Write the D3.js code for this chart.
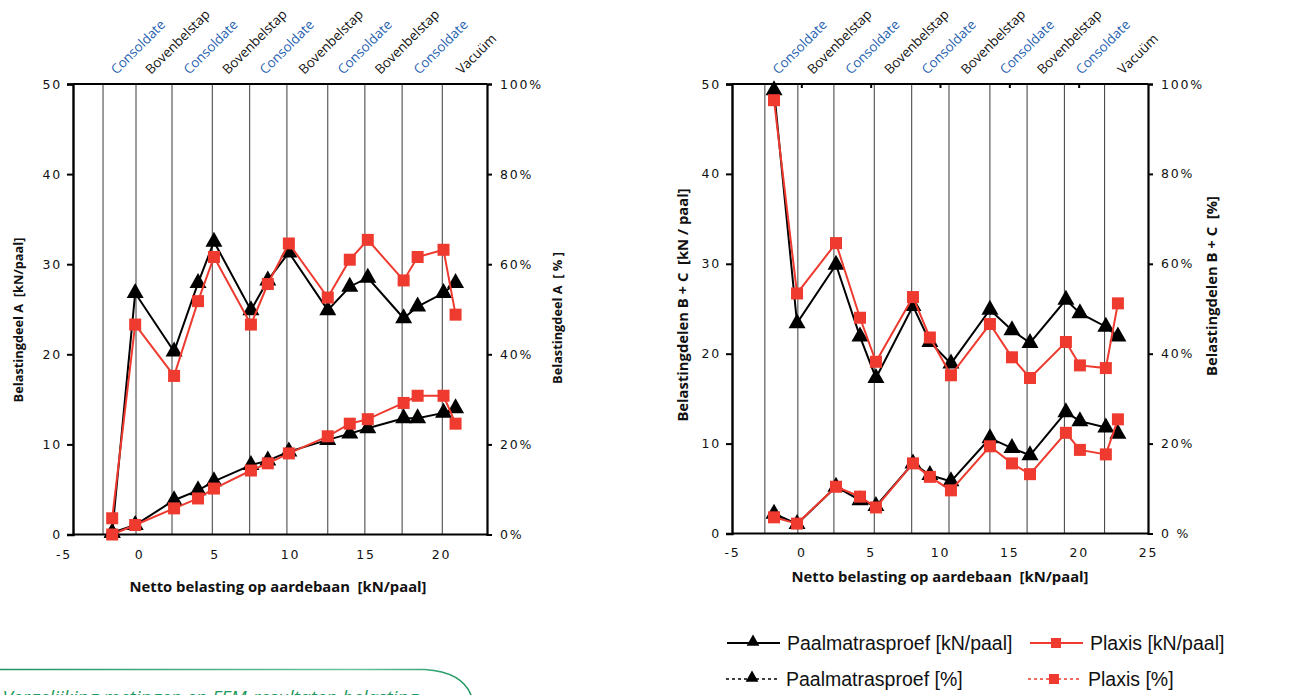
<!DOCTYPE html>
<html><head><meta charset="utf-8">
<script src="https://cdn.jsdelivr.net/npm/d3@7"></script>
<style>
body{margin:0;background:#fff;overflow:hidden}
svg{display:block;font-family:"Open Sans",sans-serif}
.tick text{font-family:"DejaVu Sans",sans-serif;font-size:12.5px;letter-spacing:1.8px;fill:#111}
</style>
</head><body>
<svg id="c" width="1303" height="695"></svg>
<script>
// ---------- data ----------
const nettoBelasting = [-1.97, -0.31, 2.5, 4.23, 5.38, 8.05, 9.27, 10.79, 13.6, 15.19, 16.49, 19.08, 20.09, 21.96, 22.83];
const phaseBounds = [-2.63, -0.25, 2.35, 5.26, 7.96, 10.65, 13.6, 16.28, 18.97, 21.87];
const phaseLabels = ["Consoldate","Bovenbelstap","Consoldate","Bovenbelstap","Consoldate","Bovenbelstap","Consoldate","Bovenbelstap","Consoldate","Vacuüm"];
const xTickValues = [-5, 0, 5, 10, 15, 20, 25];
const yTickValues = [0, 10, 20, 30, 40, 50];
const pctTickValues = [0, 20, 40, 60, 80, 100];
const pctTickLabelsA = ["0%","20%","40%","60%","80%","100%"];
const pctTickLabelsBC = ["0 %","20%","40%","60%","80%","100%"];

// Belastingdeel A
const deelA_paalmatras_kN = [0.2, 1.05, 3.8, 4.9, 5.9, 7.7, 8.2, 9.2, 10.5, 11.2, 11.8, 12.9, 12.9, 13.5, 14.0];
const deelA_plaxis_kN     = [0.0, 1.05, 2.9, 4.0, 5.1, 7.1, 7.9, 9.0, 10.9, 12.3, 12.8, 14.6, 15.4, 15.4, 12.3];
const deelA_paalmatras_pct = [0.4, 53.6, 40.6, 55.8, 65.0, 49.8, 56.4, 62.6, 49.8, 55.0, 57.0, 48.0, 50.6, 53.6, 55.8];
const deelA_plaxis_pct     = [3.6, 46.6, 35.2, 51.8, 61.6, 46.6, 55.6, 64.6, 52.6, 61.0, 65.4, 56.4, 61.6, 63.2, 48.8];

// Belastingdelen B + C
const deelBC_paalmatras_kN = [2.2, 1.06, 5.2, 3.7, 3.05, 7.8, 6.5, 5.8, 10.6, 9.5, 8.7, 13.5, 12.5, 11.8, 11.1];
const deelBC_plaxis_kN     = [1.8, 1.1, 5.2, 4.1, 2.9, 7.8, 6.3, 4.8, 9.7, 7.8, 6.6, 11.2, 9.3, 8.8, 12.7];
const deelBC_paalmatras_pct = [98.6, 46.8, 59.8, 43.8, 34.6, 50.6, 42.6, 37.8, 49.8, 45.2, 42.4, 52.0, 49.0, 46.0, 43.8];
const deelBC_plaxis_pct     = [96.4, 53.4, 64.6, 48.0, 38.2, 52.6, 43.6, 35.2, 46.6, 39.2, 34.6, 42.6, 37.4, 36.8, 51.2];

const legendItems = [
  {label:"Paalmatrasproef [kN/paal]", color:"#000", marker:"tri", dash:null},
  {label:"Plaxis [kN/paal]", color:"#ee3a2f", marker:"sq", dash:null},
  {label:"Paalmatrasproef [%]", color:"#000", marker:"tri", dash:"3,3"},
  {label:"Plaxis [%]", color:"#ee3a2f", marker:"sq", dash:"3,3"}
];

// ---------- drawing ----------
const svg = d3.select("#c");
const BLACK = "#000", RED = "#ee3a2f";
const triPath = s => `M0,${-10*s}L${8.5*s},${5*s}L${-8.5*s},${5*s}Z`;
const hyphenFmt = d => String(d).replace("\u2212","-");

function drawChart(cfg){
  const g = svg.append("g");
  const {x, xLab, y, yP, L, R, T, B} = cfg;

  // phase grid lines
  g.selectAll(".grid").data(phaseBounds).join("line")
    .attr("x1", d=>x(d)).attr("x2", d=>x(d))
    .attr("y1", T).attr("y2", B)
    .attr("stroke", "#3a3a3a").attr("stroke-width", 1);

  // frame
  g.append("line").attr("x1",L).attr("x2",R).attr("y1",T).attr("y2",T).attr("stroke","#000").attr("stroke-width",2.2);
  g.append("line").attr("x1",L).attr("x2",R).attr("y1",B).attr("y2",B).attr("stroke","#000").attr("stroke-width",2.2);

  // left axis
  const ay = g.append("g").attr("transform",`translate(${L},0)`)
    .call(d3.axisLeft(y).tickValues(yTickValues).tickSize(6).tickPadding(5));
  ay.select(".domain").attr("stroke-width",2.4);
  ay.selectAll(".tick line").attr("stroke-width",2);

  // right axis
  const ar = g.append("g").attr("transform",`translate(${R},0)`)
    .call(d3.axisRight(yP).tickValues(pctTickValues).tickSize(5).tickPadding(8)
      .tickFormat((d,i)=>cfg.pctLabels[i]));
  ar.select(".domain").attr("stroke-width",2.2);
  ar.selectAll(".tick line").attr("stroke-width",2);

  // bottom tick labels
  const ab = g.append("g").attr("transform",`translate(0,${B})`)
    .call(d3.axisBottom(xLab).tickValues(cfg.xLabels).tickSize(0).tickPadding(cfg.xPad)
      .tickFormat(d => d < 0 ? "-" + Math.abs(d) : String(d)));
  ab.select(".domain").remove();

  if (cfg.topTicks){
    const at = g.append("g").attr("transform",`translate(0,${T})`)
      .call(d3.axisTop(x).tickValues(cfg.topTicks).tickSize(-4).tickFormat(""));
    at.select(".domain").remove();
    at.selectAll(".tick line").attr("stroke-width",2);
  }

  // phase labels
  const spans = phaseBounds.map((b,i)=> (b + (i < phaseBounds.length-1 ? phaseBounds[i+1] : x.invert(R)))/2);
  g.selectAll(".phase").data(phaseLabels).join("text")
    .attr("transform",(d,i)=>`translate(${x(spans[i])-3},${T-9}) rotate(-45)`)
    .attr("font-size",13.3).attr("fill",(d)=> d==="Consoldate" ? "#1f5fb0" : "#111")
    .text(d=>d);

  // series
  const series = [
    {v:cfg.paal_pct, sc:yP, c:BLACK, m:"tri"},
    {v:cfg.paal_kN, sc:y, c:BLACK, m:"tri"},
    {v:cfg.plaxis_pct, sc:yP, c:RED, m:"sq"},
    {v:cfg.plaxis_kN, sc:y, c:RED, m:"sq"}
  ];
  series.forEach(s=>{
    const line = d3.line().x((d,i)=>x(nettoBelasting[i])).y(d=>s.sc(d));
    g.append("path").attr("d",line(s.v)).attr("fill","none").attr("stroke",s.c).attr("stroke-width",2);
    const pts = g.append("g");
    if (s.m==="tri"){
      pts.selectAll("path").data(s.v).join("path")
        .attr("transform",(d,i)=>`translate(${x(nettoBelasting[i])},${s.sc(d)})`)
        .attr("d",triPath(1)).attr("fill",s.c);
    } else {
      pts.selectAll("rect").data(s.v).join("rect")
        .attr("x",(d,i)=>x(nettoBelasting[i])-6).attr("y",d=>s.sc(d)-6)
        .attr("width",12).attr("height",12).attr("fill",s.c);
    }
  });

  // axis titles
  g.append("text").attr("x",cfg.xTitle[0]).attr("y",cfg.xTitle[1]).attr("text-anchor","middle")
    .attr("font-weight","bold").attr("font-size",cfg.xTitleSize).attr("fill","#111")
    .style("white-space","pre").text("Netto belasting op aardebaan  [kN/paal]");
  g.append("text").attr("transform",`translate(${cfg.yTitle[0]},${cfg.yTitle[1]}) rotate(-90)`)
    .attr("text-anchor","middle").attr("font-weight","bold").attr("font-size",cfg.yTitleSize).attr("fill","#111")
    .style("white-space","pre").text(cfg.yTitleText);
  g.append("text").attr("transform",`translate(${cfg.pTitle[0]},${cfg.pTitle[1]}) rotate(-90)`)
    .attr("text-anchor","middle").attr("font-weight","bold").attr("font-size",cfg.yTitleSize).attr("fill","#111")
    .style("white-space","pre").text(cfg.pTitleText);
}

// Chart A
{
  const L=73, R=487, T=84, B=534.5;
  drawChart({
    L,R,T,B,
    x: d3.scaleLinear().domain([-4.8, 25.1]).range([L,R]),
    xLab: d3.scaleLinear().domain([0, 20]).range([139, 441]),
    xLabels: [-5,0,5,10,15,20], xPad: 16,
    y: d3.scaleLinear().domain([0,50]).range([B,T]),
    yP: d3.scaleLinear().domain([0,100]).range([B,T]),
    pctLabels: pctTickLabelsA,
    paal_kN: deelA_paalmatras_kN, plaxis_kN: deelA_plaxis_kN,
    paal_pct: deelA_paalmatras_pct, plaxis_pct: deelA_plaxis_pct,
    xTitle:[278, 592], xTitleSize: 14.8, yTitle:[23, 320], pTitle:[562, 318], yTitleSize: 12.8,
    yTitleText:"Belastingdeel A  [kN/paal]", pTitleText:"Belastingdeel A  [ % ]"
  });
}
// Chart B + C
{
  const L=732, R=1148, T=84, B=533.5;
  const x = d3.scaleLinear().domain([-5, 25]).range([L,R]);
  drawChart({
    L,R,T,B,
    x, xLab: x, xLabels: xTickValues, xPad: 15,
    topTicks: [0,5,10,15,20],
    y: d3.scaleLinear().domain([0,50]).range([B,T]),
    yP: d3.scaleLinear().domain([0,100]).range([B,T]),
    pctLabels: pctTickLabelsBC,
    paal_kN: deelBC_paalmatras_kN, plaxis_kN: deelBC_plaxis_kN,
    paal_pct: deelBC_paalmatras_pct, plaxis_pct: deelBC_plaxis_pct,
    xTitle:[940, 582], xTitleSize: 14.8, yTitle:[688, 305], pTitle:[1217, 286], yTitleSize: 14.8,
    yTitleText:"Belastingdelen B + C  [kN / paal]", pTitleText:"Belastingdelen B + C  [%]"
  });
}

// legend
{
  const pos = [[727, 643],[1030, 643],[726, 679],[1028, 679]];
  legendItems.forEach((it,i)=>{
    const [lx,ly] = pos[i];
    const g = svg.append("g").attr("transform",`translate(${lx},${ly})`);
    g.append("line").attr("x1",0).attr("x2",53).attr("stroke",it.color).attr("stroke-width",it.dash?1.3:1.8)
      .attr("stroke-dasharray",it.dash);
    if (it.marker==="tri") g.append("path").attr("transform","translate(26,-1)").attr("d",triPath(0.75)).attr("fill",it.color);
    else g.append("rect").attr("x",21).attr("y",-5).attr("width",10).attr("height",10).attr("fill",it.color);
    g.append("text").attr("x",60).attr("y",6.5).style("font-family","'Liberation Sans', Arial, sans-serif")
      .attr("font-size",19.5).attr("fill","#111").text(it.label);
  });
}

// green caption box (cut off at the bottom, as in the source)
{
  const defs = svg.append("defs");
  const gr = defs.append("linearGradient").attr("id","gg").attr("x1","0").attr("x2","1");
  gr.append("stop").attr("offset","0").attr("stop-color","#1e9560");
  gr.append("stop").attr("offset","0.75").attr("stop-color","#6cc49c");
  gr.append("stop").attr("offset","1").attr("stop-color","#1e9560");
  svg.append("path").attr("d","M0,669.5 H425 Q462,672 471,695").attr("fill","none")
    .attr("stroke","url(#gg)").attr("stroke-width",1.6);
  const pre = svg.append("text").attr("font-size",19).attr("font-style","italic").text("Vergelijking metingen en ");
  const w = pre.node().getComputedTextLength(); pre.remove();
  svg.append("text").attr("x",207-w).attr("y",704).attr("font-size",19).attr("font-style","italic")
    .attr("fill","#1e9a5c").style("white-space","pre").text("Vergelijking metingen en FEM-resultaten belasting");
}
</script>
</body></html>
